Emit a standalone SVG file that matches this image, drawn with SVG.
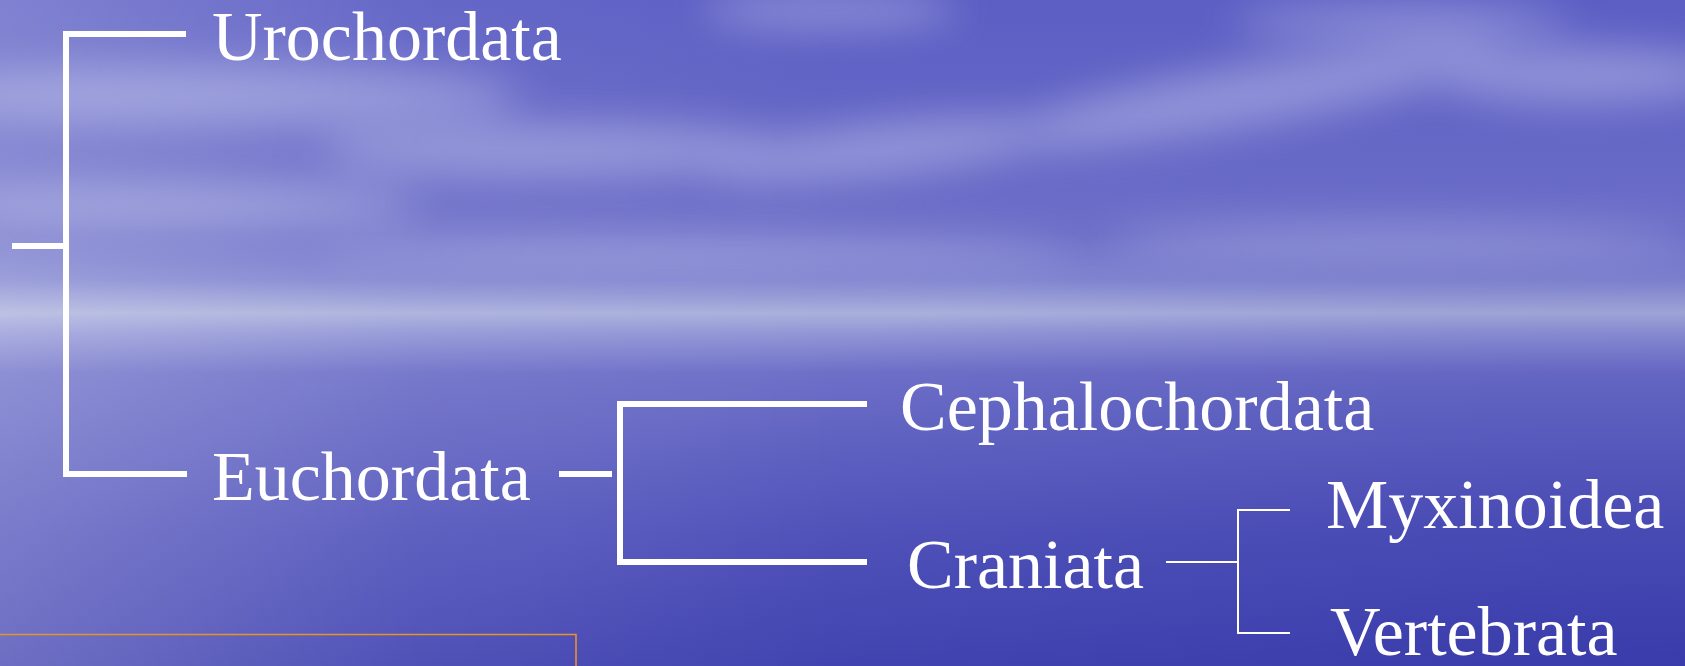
<svg xmlns="http://www.w3.org/2000/svg" width="1685" height="666" viewBox="0 0 1685 666">
<defs>
<linearGradient id="sky" x1="0" y1="0" x2="0" y2="1">
<stop offset="0" stop-color="#5c5ec4"/>
<stop offset="0.35" stop-color="#6c6ec8"/>
<stop offset="0.42" stop-color="#8084d0"/>
<stop offset="0.47" stop-color="#aab0dc"/>
<stop offset="0.5" stop-color="#9296d6"/>
<stop offset="0.56" stop-color="#6e70c8"/>
<stop offset="0.8" stop-color="#5456bc"/>
<stop offset="1" stop-color="#4446b2"/>
</linearGradient>
<linearGradient id="leftGlow" x1="0" y1="0" x2="1" y2="0">
<stop offset="0" stop-color="#ffffff" stop-opacity="0.22"/>
<stop offset="0.25" stop-color="#ffffff" stop-opacity="0.06"/>
<stop offset="0.5" stop-color="#ffffff" stop-opacity="0"/>
</linearGradient>
<radialGradient id="darkCorner" cx="1" cy="1" r="0.7">
<stop offset="0" stop-color="#2a2ca0" stop-opacity="0.4"/>
<stop offset="1" stop-color="#2a2ca0" stop-opacity="0"/>
</radialGradient>
<filter id="blur" x="-30%" y="-150%" width="160%" height="400%">
<feGaussianBlur stdDeviation="20"/>
</filter>
<style>
.br{stroke:#ffffff;stroke-width:6;fill:none;stroke-linecap:butt;stroke-linejoin:miter}
.thin{stroke:#ffffff;stroke-width:2;fill:none}
.lbl{font-family:"Liberation Serif","Times New Roman",serif;font-size:70px;fill:#ffffff}
</style>
</defs>
<g id="background">
<rect width="1685" height="666" fill="url(#sky)"/>
<rect width="1685" height="666" fill="url(#leftGlow)"/>
<rect width="1685" height="666" fill="url(#darkCorner)"/>
<g filter="url(#blur)" fill="#d8dcf4" opacity="0.4">
<ellipse cx="220" cy="95" rx="300" ry="30"/>
<ellipse cx="560" cy="150" rx="240" ry="26"/>
<ellipse cx="880" cy="150" rx="180" ry="26" transform="rotate(-6 880 150)"/>
<ellipse cx="1250" cy="95" rx="260" ry="30" transform="rotate(-10 1250 95)"/>
<ellipse cx="1580" cy="75" rx="150" ry="28"/>
<ellipse cx="830" cy="10" rx="130" ry="18"/>
<ellipse cx="1400" cy="20" rx="170" ry="16"/>
<ellipse cx="180" cy="205" rx="240" ry="20"/>
<ellipse cx="700" cy="250" rx="380" ry="14"/>
<ellipse cx="1400" cy="240" rx="300" ry="14"/>
</g>
</g>
<g id="orange-box">
<path d="M0 634.5 H576 V666" fill="none" stroke="#e8922a" stroke-width="1.6"/>
</g>
<g id="connectors">
<line class="br" x1="12" y1="246" x2="66" y2="246"/>
<path class="br" d="M186 34 H66 V474 H187"/>
<line class="br" x1="559" y1="474" x2="612" y2="474"/>
<path class="br" d="M867 404 H620 V562 H867"/>
<line class="thin" x1="1166" y1="562" x2="1238" y2="562"/>
<path class="thin" d="M1290 510 H1238 V633 H1290"/>
</g>
<g id="node-urochordata"><text class="lbl" x="212" y="60">Urochordata</text></g>
<g id="node-euchordata"><text class="lbl" x="212" y="500">Euchordata</text></g>
<g id="node-cephalochordata"><text class="lbl" x="900" y="430">Cephalochordata</text></g>
<g id="node-craniata"><text class="lbl" x="907" y="588">Craniata</text></g>
<g id="node-myxinoidea"><text class="lbl" x="1326" y="528">Myxinoidea</text></g>
<g id="node-vertebrata"><text class="lbl" x="1330" y="655">Vertebrata</text></g>
</svg>
